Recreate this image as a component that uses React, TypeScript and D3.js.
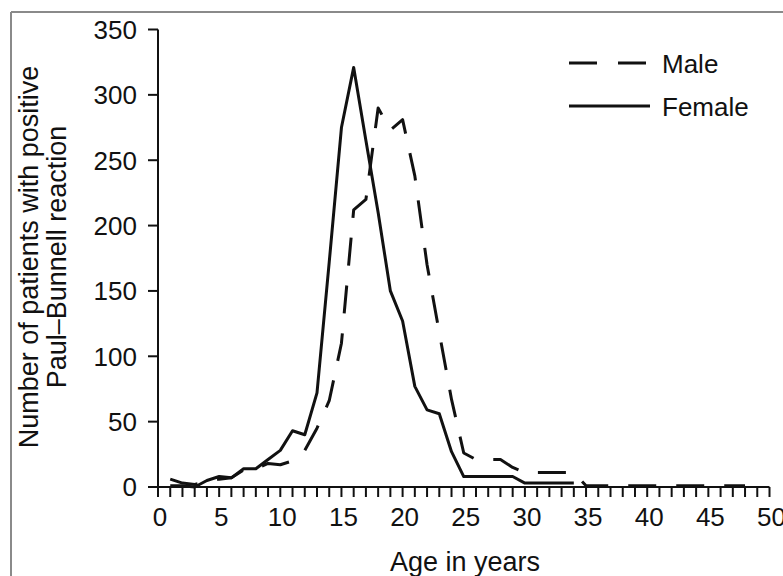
import React from "react";
import * as d3 from "d3";

const femaleAges = [1, 2, 3, 4, 5, 6, 7, 8, 9, 10, 11, 12, 13, 14, 15, 16, 17, 18, 19, 20, 21, 22, 23, 24, 25, 26, 27, 28, 29, 30, 31, 32, 33, 34];
const femaleValues = [1, 1, 0, 5, 8, 7, 14, 14, 21, 28, 43, 40, 72, 172, 275, 321, 265, 210, 150, 127, 77, 59, 56, 27, 8, 8, 8, 8, 8, 3, 3, 3, 3, 3];

const maleAges = [1, 2, 3, 4, 5, 6, 7, 8, 9, 10, 11, 12, 13, 14, 15, 16, 17, 18, 19, 20, 21, 22, 23, 24, 25, 26, 27, 28, 29, 30, 31, 32, 33, 34, 35, 36, 37, 38, 39, 40, 41, 42, 43, 44, 45, 46, 47, 48];
const maleValues = [6, 3, 2, 4, 6, 7, 13, 14, 18, 17, 20, 28, 45, 66, 110, 212, 220, 290, 273, 281, 238, 170, 118, 67, 26, 21, 21, 21, 15, 11, 11, 11, 11, 11, 1, 1, 1, 1, 1, 1, 1, 1, 1, 1, 1, 1, 1, 1];

const xTicks = [0, 5, 10, 15, 20, 25, 30, 35, 40, 45, 50];
const xMinorTicks = [0, 1, 2, 3, 4, 5, 6, 7, 8, 9, 10, 11, 12, 13, 14, 15, 16, 17, 18, 19, 20, 21, 22, 23, 24, 25, 26, 27, 28, 29, 30, 31, 32, 33, 34, 35, 36, 37, 38, 39, 40, 41, 42, 43, 44, 45, 46, 47, 48, 49, 50];
const yTicks = [0, 50, 100, 150, 200, 250, 300, 350];

const seriesNames = ["Male", "Female"];
const xTitle = "Age in years";
const yTitle = ["Number of patients with positive", "Paul\u2013Bunnell reaction"];

const FONT = "'Liberation Sans', Arial, Helvetica, sans-serif";

export default function App() {
  const x = d3.scaleLinear().domain([0, 50]).range([158, 769.5]);
  const y = d3.scaleLinear().domain([0, 350]).range([487, 29.5]);

  const line = d3
    .line<[number, number]>()
    .x((d) => x(d[0]))
    .y((d) => y(d[1]));

  const female = femaleAges.map((a, i) => [a, femaleValues[i]] as [number, number]);
  const male = maleAges.map((a, i) => [a, maleValues[i]] as [number, number]);

  return (
    <svg
      width={783}
      height={576}
      style={{ position: "absolute", left: 0, top: 0, background: "#fff" }}
      fontFamily={FONT}
    >
      <rect x={0} y={0} width={783} height={576} fill="#fff" />
      {/* frame */}
      <line x1={11} y1={12} x2={783} y2={12} stroke="#8a8a8a" strokeWidth={2} />
      <line x1={11} y1={12} x2={11} y2={576} stroke="#8a8a8a" strokeWidth={2} />

      {/* data lines */}
      <path d={line(male) || ""} fill="none" stroke="#111" strokeWidth={3} strokeDasharray="28 20" strokeLinejoin="round" />
      <path d={line(female) || ""} fill="none" stroke="#111" strokeWidth={3} strokeLinejoin="round" />

      {/* y axis */}
      <line x1={x(0)} y1={y(0)} x2={x(0)} y2={y(350)} stroke="#111" strokeWidth={2} />
      {yTicks.map((t) => (
        <g key={"y" + t}>
          <line x1={x(0) - 10} x2={x(0)} y1={y(t)} y2={y(t)} stroke="#111" strokeWidth={2} />
          <text x={137} y={y(t)} dy="0.36em" textAnchor="end" fontSize={26} fill="#111">
            {t}
          </text>
        </g>
      ))}

      {/* x axis */}
      <line x1={x(0)} y1={y(0)} x2={x(50)} y2={y(0)} stroke="#111" strokeWidth={2} />
      {xMinorTicks.map((t) => (
        <line key={"xm" + t} x1={x(t)} x2={x(t)} y1={y(0)} y2={y(0) + 10} stroke="#111" strokeWidth={2} />
      ))}
      {xTicks.map((t) => (
        <text key={"x" + t} x={x(t) + 2} y={526} textAnchor="middle" fontSize={26} fill="#111">
          {t}
        </text>
      ))}

      {/* titles */}
      <text x={465} y={571} textAnchor="middle" fontSize={27} fill="#111">
        {xTitle}
      </text>
      <g transform="translate(0,257) rotate(-90)">
        <text x={0} y={38} textAnchor="middle" fontSize={27} fill="#111">
          {yTitle[0]}
        </text>
        <text x={0} y={66} textAnchor="middle" fontSize={27} fill="#111">
          {yTitle[1]}
        </text>
      </g>

      {/* legend */}
      <line x1={569} x2={647} y1={63} y2={63} stroke="#111" strokeWidth={3} strokeDasharray="28 21" />
      <text x={662} y={73} fontSize={26} fill="#111">
        {seriesNames[0]}
      </text>
      <line x1={569} x2={650} y1={106} y2={106} stroke="#111" strokeWidth={3} />
      <text x={662} y={116} fontSize={26} fill="#111">
        {seriesNames[1]}
      </text>
    </svg>
  );
}
